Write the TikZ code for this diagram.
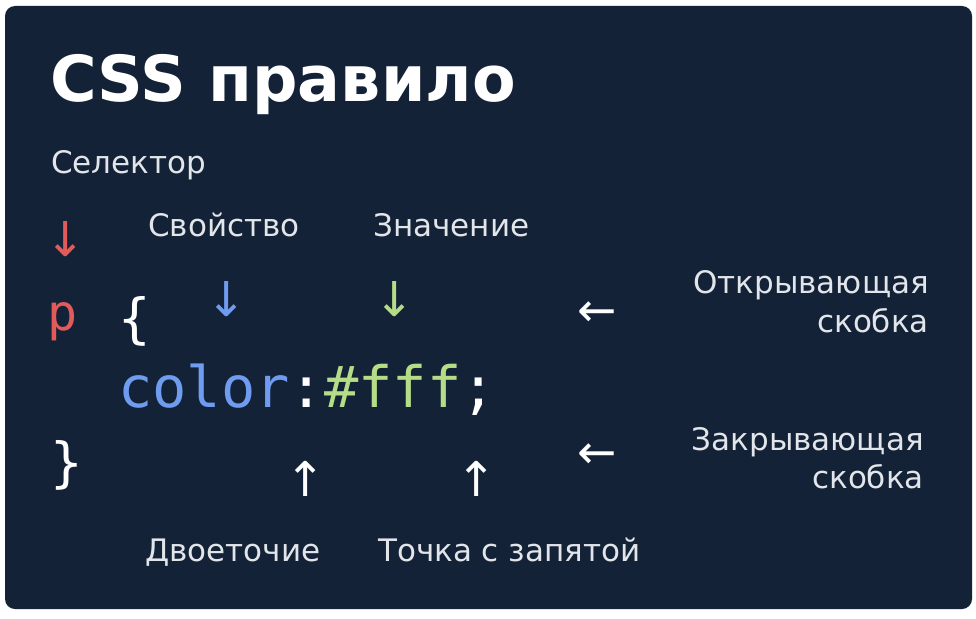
\documentclass[tikz,border=0pt]{standalone}
\usepackage{fontspec}
\setmainfont{DejaVu Sans}
\newfontfamily\codefont{DejaVu Sans Mono}
\definecolor{cardbg}{HTML}{132236}
\definecolor{labelc}{HTML}{E2E5EA}
\definecolor{selred}{HTML}{E35A5A}
\definecolor{propblue}{HTML}{6F9CF0}
\definecolor{valgreen}{HTML}{B5DC86}
\tikzset{
  lbl/.style={inner sep=0pt, anchor=base west, text=labelc, font=\fontsize{31}{38}\selectfont},
  lblr/.style={lbl, anchor=base east},
  varr/.style={inner sep=0pt, anchor=center, font=\fontsize{48}{56}\selectfont},
  harr/.style={inner sep=0pt, anchor=center, font=\fontsize{47}{52}\selectfont},
  codetxt/.style={inner sep=0pt, font=\codefont\fontsize{57}{64}\selectfont},
}
\begin{document}
\begin{tikzpicture}[x=1pt,y=-1pt]
\useasboundingbox (0,0) rectangle (976,618);
\fill[white] (0,0) rectangle (976,618);
\fill[cardbg, rounded corners=10pt] (5,6) rectangle (972,609);

% title
\node[inner sep=0pt, anchor=base west, text=white, font=\bfseries\fontsize{63.5}{70}\selectfont] (title) at (50,101) {CSS правило};

% labels
\node[lbl] (sel) at (51,173) {Селектор};
\node[lbl] (prop) at (148,236) {Свойство};
\node[lbl] (val) at (373,236) {Значение};
\node[lblr] (open1) at (929,293) {Открывающая};
\node[lblr] (open2) at (929,332) {скобка};
\node[lblr] (close1) at (924,450) {Закрывающая};
\node[lblr] (close2) at (924,488) {скобка};
\node[lbl] (colonl) at (145,561) {Двоеточие};
\node[lbl] (semil) at (378,561) {Точка с запятой};

% arrows
\node[varr, text=selred] (aSel) at (66,239) {↓};
\node[varr, text=propblue] (aProp) at (227,299) {↓};
\node[varr, text=valgreen] (aVal) at (395,299) {↓};
\node[harr, text=white] (aOpen) at (597,314) {←};
\node[harr, text=white] (aClose) at (597,456) {←};
\node[varr, text=white] (aColon) at (306,479) {↑};
\node[varr, text=white] (aSemi) at (477,479) {↑};

% code
\node[codetxt, anchor=base west, text=selred, font=\codefont\fontsize{50}{56}\selectfont] (pSel) at (47,330) {p};
\node[codetxt, anchor=center, text=white, font=\codefont\fontsize{54}{60}\selectfont] (ob) at (135,321) {\{};
\node[codetxt, anchor=base west] (decl) at (118,407) {\textcolor{propblue}{color}\textcolor{white}{:}\textcolor{valgreen}{\#fff}\textcolor{white}{;}};
\node[codetxt, anchor=center, text=white, font=\codefont\fontsize{54}{60}\selectfont] (cb) at (67,465) {\}};
\end{tikzpicture}
\end{document}
